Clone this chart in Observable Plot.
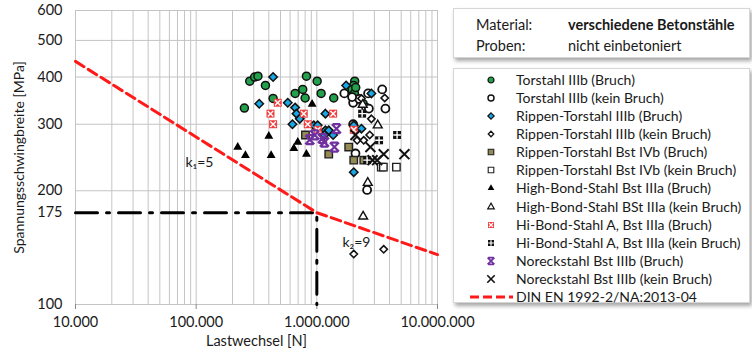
<!DOCTYPE html>
<html><head><meta charset="utf-8">
<script src="https://cdn.jsdelivr.net/npm/d3@7"></script>
<script src="https://cdn.jsdelivr.net/npm/@observablehq/plot@0.6"></script>
<style>
body{margin:0;background:#fff;font-family:Lato,"DejaVu Sans",sans-serif;}
#wrap{position:relative;width:752px;height:352px;overflow:hidden;background:#fff;}
.box{position:absolute;background:#fff;border:1px solid #d6d6d6;box-shadow:2px 3px 4px rgba(0,0,0,0.35);box-sizing:border-box;}
.row{position:absolute;height:18px;line-height:18px;font-size:14px;color:#1a1a1a;white-space:nowrap;}
.b1 .row{font-size:14.5px;}
.sym{position:absolute;}
</style></head>
<body><div id="wrap"></div>
<script>
// ---- data (Lastwechsel N, Spannungsschwingbreite MPa) ----
const torstahlBruch = [[278000,390],[305000,400],[325000,402],[375000,380],[434000,351],[251000,331],[820000,402],[1006000,390],[764000,371],[661000,362],[800000,352],[1085000,362],[1380000,352],[2060000,390],[2020000,380],[1960000,371],[2050000,362],[2100000,375],[2420000,340]];
const torstahlKein = [[1690000,362],[2660000,362],[3480000,371],[2000000,342],[2560000,332],[2000000,300],[2090000,251],[3700000,330],[2610000,201],[2250000,350],[1960000,354],[2700000,330]];
const rippenBruch = [[434000,400],[333000,340],[574000,342],[661000,332],[678000,320],[722000,310],[628000,300],[1178000,320],[943000,298],[1017000,298],[1178000,289],[1255000,289],[1156000,281],[1365000,281],[1749000,380],[2833000,362],[2342000,292],[2023000,224],[2023000,298]];
const rippenKein = [[2342000,351],[3652000,352],[2833000,310],[2158000,272],[2447000,272],[2743000,281],[2023000,136],[3583000,140]];
const ivbBruch = [[805000,281],[1255000,250],[1837000,261],[2023000,241],[2450000,241]];
const ivbKein = [[3420000,231],[3560000,231],[4565000,231]];
const highBondBruch = [[221000,261],[256000,248],[400000,279],[418000,248],[695000,269],[645000,259],[820000,250],[914000,339]];
const highBondKein = [[2400000,338],[3196000,298],[2642000,210],[2419000,171]];
const hiBondABruch = [[474000,342],[413000,320],[434000,300],[779000,320],[841000,300],[1017000,290],[1365000,320],[2023000,290]];
const hiBondAKein = [[2373000,320],[3280000,272],[4624000,281],[2610000,241]];
const noreckBruch = [[874000,273],[1112000,275],[1156000,269],[1453000,292],[1399000,261],[960000,281]];
const noreckKein = [[2780000,261],[3583000,250],[5318000,250],[3160000,241],[2089000,281],[2900000,241]];
const dinCurve = [[10000,440],[1000000,175],[10000000,135.5]];
const dashDot = [[10000,175],[1000000,175],[1000000,100]];
const annotations = [{label:"k\u2081=5", x:81500, y:238},{label:"k\u2082=9", x:1630000, y:146}];

const xTicks = [10000,100000,1000000,10000000];
const xTickLabels = ["10.000","100.000","1.000.000","10.000.000"];
const yTicks = [100,175,200,300,400,500,600];
const yGrid = [200,300,400,500];
const xGrid = [];
for (const p of [1e4,1e5,1e6]) for (let m=1;m<=9;m++) xGrid.push(m*p);

// ---- styles ----
const noreckSym = {draw(ctx,size){const s=Math.sqrt(size/Math.PI);ctx.moveTo(-s,-s);ctx.lineTo(s,s);ctx.moveTo(s,-s);ctx.lineTo(-s,s);ctx.moveTo(-s*0.8,-s);ctx.lineTo(s*0.8,-s);ctx.moveTo(-s*0.8,s);ctx.lineTo(s*0.8,s);}};
const series = [
 {name:"Torstahl IIIb (Bruch)", data:torstahlBruch, symbol:d3.symbolCircle, r:4, fill:"#22a04b", stroke:"#111", sw:1.5},
 {name:"Torstahl IIIb (kein Bruch)", data:torstahlKein, symbol:d3.symbolCircle, r:4, fill:"#fff", stroke:"#111", sw:1.8},
 {name:"Rippen-Torstahl IIIb (Bruch)", data:rippenBruch, symbol:d3.symbolDiamond2, r:3.8, fill:"#1aa7e6", stroke:"#111", sw:1.5},
 {name:"Rippen-Torstahl IIIb (kein Bruch)", data:rippenKein, symbol:d3.symbolDiamond2, r:3.3, fill:"#fff", stroke:"#111", sw:1.6},
 {name:"Rippen-Torstahl Bst IVb (Bruch)", data:ivbBruch, symbol:d3.symbolSquare, r:4.2, fill:"#948a54", stroke:"#222", sw:1.4},
 {name:"Rippen-Torstahl Bst IVb (kein Bruch)", data:ivbKein, symbol:d3.symbolSquare, r:4.2, fill:"#fff", stroke:"#222", sw:1.4},
 {name:"High-Bond-Stahl Bst IIIa (Bruch)", data:highBondBruch, symbol:d3.symbolTriangle, r:3.3, fill:"#000", stroke:"none", sw:0},
 {name:"High-Bond-Stahl BSt IIIa (kein Bruch)", data:highBondKein, symbol:d3.symbolTriangle, r:3.3, fill:"#fff", stroke:"#111", sw:1.4},
 {name:"Hi-Bond-Stahl A, Bst IIIa (Bruch)", data:hiBondABruch, symbol:d3.symbolSquare, r:4.5, fill:"#f03c3c", stroke:"none", sw:0, overlay:d3.symbolTimes, ostroke:"#fff"},
 {name:"Hi-Bond-Stahl A, Bst IIIa (kein Bruch)", data:hiBondAKein, symbol:d3.symbolSquare, r:4.5, fill:"#111", stroke:"none", sw:0, overlay:d3.symbolPlus, ostroke:"#fff"},
 {name:"Noreckstahl Bst IIIb (Bruch)", data:noreckBruch, symbol:noreckSym, r:4.5, fill:"none", stroke:"#7030a0", sw:2.2},
 {name:"Noreckstahl Bst IIIb (kein Bruch)", data:noreckKein, symbol:d3.symbolTimes, r:4.6, fill:"none", stroke:"#111", sw:2}
];

const dotMarks = [];
for (const s of series) {
  dotMarks.push(Plot.dot(s.data, {x:d=>d[0], y:d=>d[1], symbol:s.symbol, r:s.r, fill:s.fill, stroke:s.stroke, strokeWidth:s.sw}));
  if (s.overlay) dotMarks.push(Plot.dot(s.data, {x:d=>d[0], y:d=>d[1], symbol:s.overlay, r:2.6, fill:"none", stroke:s.ostroke, strokeWidth:1.4}));
}

const chart = Plot.plot({
  width:752, height:352,
  marginLeft:75, marginRight:315, marginTop:10, marginBottom:48,
  style:{fontFamily:"Lato, 'DejaVu Sans', sans-serif", fontSize:"14px", color:"#1a1a1a", background:"transparent"},
  x:{type:"log", domain:[1e4,1e7]},
  y:{type:"log", domain:[100,600]},
  marks:[
    Plot.gridX(xGrid, {stroke:"#c4c4c4", strokeOpacity:1}),
    Plot.gridY(yGrid, {stroke:"#c4c4c4", strokeOpacity:1}),
    Plot.frame({stroke:"#c4c4c4"}),
    Plot.axisX(xTicks, {tickFormat:d=>xTickLabels[xTicks.indexOf(d)], tickSize:5, tickPadding:7, label:null, stroke:"#888", fontSize:14.5}),
    Plot.axisY(yTicks, {tickFormat:d=>String(d), tickSize:0, tickPadding:13, label:null, fontSize:14.5}),
    Plot.line(dashDot, {x:d=>d[0], y:d=>d[1], stroke:"#000", strokeWidth:3, strokeDasharray:"22,9,3,9"}),
    Plot.line(dinCurve, {x:d=>d[0], y:d=>d[1], stroke:"#ff1a1a", strokeWidth:3, strokeDasharray:"10,5"}),
    ...dotMarks,
    Plot.text(annotations, {x:"x", y:"y", text:"label", textAnchor:"start", fontSize:14}),
    Plot.text(["Spannungsschwingbreite [MPa]"], {frameAnchor:"left", textAnchor:"middle", lineAnchor:"middle", rotate:-90, dx:-56, fontSize:14}),
    Plot.text(["Lastwechsel [N]"], {frameAnchor:"bottom", textAnchor:"middle", lineAnchor:"middle", dy:37, fontSize:14.5})
  ]
});
const wrap = document.getElementById("wrap");
wrap.appendChild(chart);

// ---- legend boxes ----
const box1 = document.createElement("div");
box1.className = "box b1";
Object.assign(box1.style, {left:"453px", top:"8px", width:"297px", height:"50px"});
box1.innerHTML = '<div class="row" style="left:22px;top:7px">Material:</div>'+
 '<div class="row" style="left:114px;top:7px;font-weight:bold">verschiedene Betonstähle</div>'+
 '<div class="row" style="left:22px;top:28px">Proben:</div>'+
 '<div class="row" style="left:114px;top:28px">nicht einbetoniert</div>';
wrap.appendChild(box1);

const box2 = document.createElement("div");
box2.className = "box";
Object.assign(box2.style, {left:"453px", top:"68px", width:"297px", height:"235px"});
wrap.appendChild(box2);
const step = 18.08;
const legendItems = series.map(s=>s.name).concat(["DIN EN 1992-2/NA:2013-04"]);
legendItems.forEach((name,i)=>{
  const cy = 11 + i*step;
  const row = document.createElement("div");
  row.className = "row";
  row.style.left = "62px"; row.style.top = (cy-9)+"px";
  row.textContent = name;
  box2.appendChild(row);
  const svg = d3.create("svg").attr("width",50).attr("height",16).attr("class","sym")
    .style("left","12px").style("top",(cy-8)+"px");
  if (i < series.length) {
    const s = series[i];
    const rr = s.r*0.75;
    svg.append("path").attr("transform","translate(25,8)")
      .attr("d", d3.symbol(s.symbol, Math.PI*rr*rr)())
      .attr("fill", s.fill).attr("stroke", s.stroke).attr("stroke-width", s.sw*0.8);
    if (s.overlay) svg.append("path").attr("transform","translate(25,8)")
      .attr("d", d3.symbol(s.overlay, Math.PI*2*2)()).attr("fill","none").attr("stroke",s.ostroke).attr("stroke-width",1.2);
  } else {
    svg.append("line").attr("x1",4).attr("x2",47).attr("y1",8).attr("y2",8)
      .attr("stroke","#ff1a1a").attr("stroke-width",3).attr("stroke-dasharray","9,4");
  }
  box2.appendChild(svg.node());
});
</script></body></html>
